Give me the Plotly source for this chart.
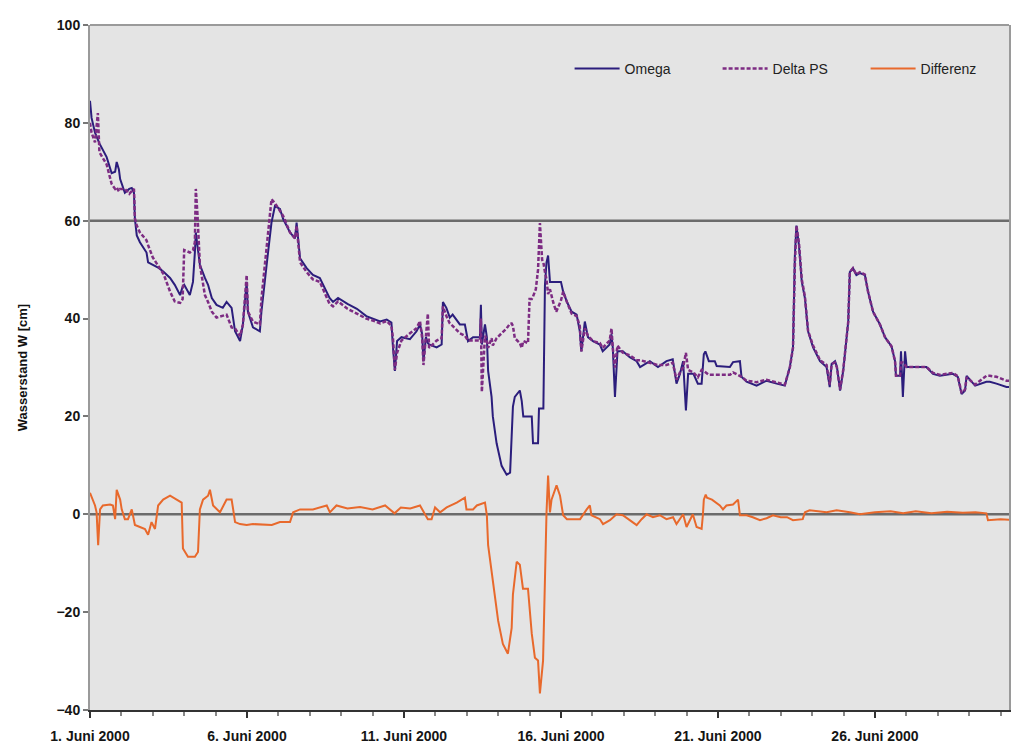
import pandas as pd
import plotly.graph_objects as go

# ---------------- data (time in days after 1. Juni 2000 00:00) ----------------
wl_days = [0.00, 0.05, 0.16, 0.25, 0.30, 0.53, 0.69, 0.80, 0.85, 0.92, 0.96, 1.11, 1.25, 1.33, 1.40,
           1.43, 1.49, 1.59, 1.80, 1.85, 2.00, 2.20, 2.35, 2.55, 2.70, 2.87, 2.95, 3.00, 3.18, 3.28,
           3.34, 3.37, 3.42, 3.50, 3.66, 3.76, 3.88, 4.03, 4.23, 4.35, 4.51, 4.62, 4.78, 4.87, 4.99,
           5.03, 5.19, 5.41, 5.46, 5.57, 5.67, 5.78, 5.89, 6.05, 6.15, 6.37, 6.53, 6.58, 6.69, 6.90,
           7.10, 7.32, 7.48, 7.63, 7.74, 7.90, 8.20, 8.50, 8.80, 9.10, 9.24, 9.45, 9.60, 9.65, 9.71,
           9.78, 9.92, 10.19, 10.40, 10.51, 10.58, 10.62, 10.70, 10.76, 10.80, 11.04, 11.20, 11.24, 11.35, 11.46,
           11.55, 11.78, 11.94, 12.04, 12.20, 12.42, 12.45, 12.48, 12.58, 12.64, 12.68, 12.79, 12.83, 12.95, 13.11,
           13.27, 13.38, 13.43, 13.47, 13.53, 13.69, 13.75, 13.80, 13.95, 14.00, 14.07, 14.11, 14.20, 14.27, 14.30,
           14.33, 14.40, 14.44, 14.49, 14.54, 14.59, 14.65, 14.75, 14.85, 15.00, 15.07, 15.19, 15.34, 15.50, 15.60,
           15.65, 15.76, 15.86, 16.02, 16.24, 16.33, 16.55, 16.61, 16.65, 16.72, 16.80, 16.97, 17.19, 17.41, 17.52,
           17.83, 18.09, 18.36, 18.56, 18.68, 18.79, 18.89, 18.98, 19.05, 19.22, 19.36, 19.48, 19.55, 19.60, 19.71,
           19.90, 19.96, 20.38, 20.48, 20.70, 20.75, 20.91, 21.23, 21.55, 21.87, 22.13, 22.29, 22.39, 22.45, 22.50,
           22.58, 22.67, 22.77, 22.87, 23.03, 23.25, 23.46, 23.56, 23.62, 23.73, 23.79, 23.89, 23.99, 24.10, 24.15,
           24.20, 24.30, 24.41, 24.52, 24.68, 24.78, 24.94, 25.16, 25.32, 25.53, 25.64, 25.67, 25.80, 25.83, 25.89,
           25.96, 26.01, 26.20, 26.64, 26.85, 27.07, 27.48, 27.64, 27.76, 27.87, 27.92, 28.19, 28.55, 28.66, 28.87,
           29.19, 29.40]

omega = [84.5, 81.0, 78.0, 76.5, 75.8, 73.0, 69.7, 70.0, 72.0, 70.5, 68.5, 65.7, 66.5, 66.7, 65.7,
         60.4, 57.0, 55.6, 53.5, 51.5, 51.0, 50.3, 49.5, 48.3, 46.9, 44.8, 46.5, 46.9, 44.8, 47.5,
         53.5, 57.6, 55.0, 51.0, 48.3, 46.9, 44.2, 42.8, 42.2, 43.4, 42.2, 37.4, 35.4, 38.8, 47.5,
         41.4, 38.2, 37.4, 41.4, 48.3, 53.5, 59.6, 63.0, 62.4, 60.4, 57.6, 56.4, 59.6, 52.3, 50.3,
         48.9, 48.3, 46.3, 44.2, 43.4, 44.2, 43.0, 42.0, 40.5, 39.8, 39.4, 39.8, 39.2, 34.1, 29.3,
         35.4, 36.2, 35.8, 37.4, 38.8, 36.8, 31.3, 36.2, 35.0, 34.7, 34.1, 34.7, 43.4, 42.2, 40.2,
         40.8, 38.8, 38.8, 35.4, 36.2, 36.2, 42.8, 34.7, 38.8, 36.2, 29.3, 24.0, 20.0, 14.5, 9.9,
         8.1, 8.5, 16.0, 22.0, 24.0, 25.3, 23.2, 20.0, 20.0, 20.0, 20.0, 14.5, 14.5, 14.5, 21.6,
         21.6, 21.6, 21.6, 46.9, 51.5, 52.9, 47.5, 47.5, 47.5, 47.5, 45.5, 43.4, 41.4, 40.8, 37.4,
         33.3, 39.4, 36.2, 35.4, 34.7, 33.3, 34.7, 36.8, 34.1, 24.0, 33.3, 33.3, 32.1, 31.3, 30.1,
         31.3, 30.1, 31.3, 31.7, 26.7, 28.7, 31.3, 21.2, 28.7, 28.7, 26.7, 26.7, 32.7, 33.3, 31.3,
         31.3, 30.3, 30.1, 31.1, 31.3, 28.1, 27.1, 26.3, 27.3, 26.7, 26.3, 30.1, 34.1, 52.9, 59.0,
         55.0, 47.5, 44.2, 37.4, 34.1, 31.3, 30.1, 26.0, 30.7, 31.3, 30.1, 25.3, 29.3, 35.4, 39.4,
         49.5, 50.3, 48.9, 49.3, 48.9, 45.5, 41.4, 38.8, 36.2, 34.3, 31.3, 28.3, 28.3, 33.3, 24.0,
         33.3, 30.1, 30.1, 30.1, 28.7, 28.3, 28.7, 28.1, 24.6, 25.3, 28.3, 26.3, 27.1, 27.1, 26.7,
         26.0, 26.0]

delta_ps = [80.0, 78.0, 76.0, 82.0, 74.0, 71.5, 67.5, 66.5, 66.8, 66.0, 66.5, 66.5, 65.5, 66.0, 66.5,
            60.5, 59.0, 57.6, 56.0, 55.0, 52.5, 50.5, 49.0, 45.5, 43.5, 43.2, 44.0, 54.0, 53.5, 54.0,
            55.6, 66.5, 61.6, 51.0, 44.8, 43.4, 41.4, 40.2, 40.5, 40.8, 38.2, 38.0, 36.4, 38.8, 48.9,
            41.4, 39.4, 38.8, 44.0, 51.0, 57.6, 64.4, 63.6, 62.0, 61.0, 57.6, 56.4, 59.0, 51.5, 49.5,
            48.0, 47.5, 45.0, 43.0, 42.5, 43.5, 42.0, 41.0, 40.0, 39.4, 39.0, 39.5, 38.5, 36.0, 29.5,
            33.0, 35.5, 37.0, 38.0, 39.5, 36.0, 30.5, 36.5, 41.0, 34.0, 35.5, 36.0, 42.5, 40.5, 39.0,
            38.5, 37.0, 36.5, 35.5, 35.5, 35.5, 40.0, 25.0, 36.5, 35.5, 34.0, 36.0, 34.5, 36.0, 37.0,
            38.0, 39.0, 39.0, 38.5, 36.0, 35.0, 34.0, 35.4, 35.0, 44.0, 44.0, 44.5, 46.0, 50.0, 55.0,
            59.5, 52.0, 51.5, 49.5, 48.0, 45.0, 46.0, 43.4, 41.4, 43.7, 45.5, 43.4, 41.0, 40.5, 38.5,
            33.3, 38.0, 36.5, 35.4, 35.0, 34.0, 35.5, 38.0, 34.0, 30.0, 34.5, 33.0, 32.5, 31.5, 31.5,
            31.0, 30.5, 30.5, 31.0, 27.5, 29.0, 30.0, 33.0, 29.5, 29.0, 28.0, 29.5, 29.3, 29.0, 28.5,
            28.5, 28.5, 28.5, 29.0, 28.3, 28.1, 27.3, 27.0, 27.5, 27.0, 26.5, 30.0, 34.0, 51.0, 59.0,
            55.5, 48.0, 44.5, 37.5, 34.5, 31.5, 30.5, 26.5, 30.7, 31.0, 30.0, 25.5, 29.5, 35.5, 39.4,
            49.5, 50.3, 49.0, 49.5, 49.0, 45.5, 41.4, 38.8, 36.2, 34.3, 31.3, 28.3, 28.3, 31.0, 31.0,
            30.5, 30.1, 30.1, 30.1, 28.9, 28.5, 28.9, 28.2, 24.8, 25.5, 28.0, 26.5, 28.3, 28.3, 28.1,
            27.3, 27.3]

diff_days = [0.00, 0.10, 0.16, 0.21, 0.26, 0.32, 0.41, 0.64, 0.73, 0.80, 0.85, 0.96, 1.01, 1.11, 1.21,
             1.33, 1.37, 1.43, 1.59, 1.75, 1.85, 1.96, 2.07, 2.17, 2.33, 2.55, 2.76, 2.92, 2.96, 3.12,
             3.34, 3.44, 3.50, 3.60, 3.76, 3.82, 3.92, 4.14, 4.35, 4.51, 4.56, 4.62, 4.78, 4.99, 5.19,
             5.63, 5.79, 6.05, 6.37, 6.47, 6.69, 7.10, 7.54, 7.64, 7.85, 8.20, 8.60, 9.00, 9.40, 9.70,
             9.90, 10.20, 10.51, 10.76, 10.88, 10.99, 11.15, 11.36, 11.68, 11.94, 11.99, 12.20, 12.32, 12.58, 12.64,
             12.68, 12.79, 12.90, 13.00, 13.15, 13.31, 13.43, 13.47, 13.59, 13.69, 13.79, 13.95, 14.07, 14.17, 14.27,
             14.33, 14.43, 14.49, 14.54, 14.59, 14.65, 14.70, 14.86, 14.97, 15.07, 15.19, 15.61, 15.82, 15.92, 15.97,
             16.24, 16.34, 16.56, 16.77, 16.97, 17.19, 17.41, 17.57, 17.73, 17.93, 18.15, 18.36, 18.57, 18.68, 18.79,
             18.89, 19.00, 19.11, 19.20, 19.32, 19.48, 19.52, 19.55, 19.61, 19.65, 19.81, 20.06, 20.16, 20.27, 20.48,
             20.64, 20.70, 20.91, 21.11, 21.34, 21.55, 21.75, 22.00, 22.20, 22.39, 22.70, 22.77, 22.92, 23.46, 23.78,
             24.20, 24.52, 25.00, 25.50, 25.90, 26.30, 26.80, 27.30, 27.80, 28.20, 28.55, 28.60, 29.00, 29.40]

differenz = [4.4, 3.0, 1.8, 0.4, -6.3, 1.0, 1.8, 2.0, 1.8, -1.0, 5.0, 3.0, 1.0, -1.0, -1.0,
             1.0, -0.2, -2.2, -2.6, -3.0, -4.2, -1.6, -3.0, 1.8, 3.0, 3.8, 3.0, 2.4, -7.0, -8.7,
             -8.7, -7.7, 1.0, 3.0, 3.8, 5.0, 1.8, 0.4, 3.0, 3.0, 1.0, -1.6, -2.0, -2.2, -2.0,
             -2.2, -2.2, -1.6, -1.6, 0.4, 1.0, 1.0, 1.8, 0.4, 1.8, 1.2, 1.5, 1.0, 1.8, 0.2,
             1.4, 1.2, 1.8, -1.0, -1.0, 1.4, 0.4, 1.4, 2.4, 3.4, 1.0, 1.0, 1.8, 2.4, -0.2,
             -6.3, -11.7, -17.8, -21.8, -26.5, -28.5, -23.2, -16.4, -9.7, -10.3, -15.2, -15.2, -24.4, -29.3, -29.9,
             -36.6, -29.9, -12.3, 0.4, 7.9, 0.4, 3.0, 5.9, 3.8, -0.2, -1.0, -1.0, 1.0, 1.8, -0.2,
             -1.0, -2.0, -1.2, 0.0, -0.2, -1.2, -2.2, -1.0, 0.0, -0.6, -0.2, -1.0, -0.6, -2.0, -1.0,
             0.0, -2.6, -1.0, 0.0, -2.6, -3.0, -0.2, 3.0, 4.0, 3.4, 3.0, 1.8, 1.0, 1.8, 2.0,
             3.0, -0.2, -0.2, -0.6, -1.2, -0.8, -0.2, -0.6, -0.6, -1.2, -1.0, 0.4, 0.8, 0.4, 0.8,
             0.4, 0.0, 0.4, 0.6, 0.2, 0.6, 0.2, 0.5, 0.3, 0.4, 0.2, -1.2, -1.0, -1.2]

tick_days = [0, 5, 10, 15, 20, 25]
tick_labels = ["1. Juni 2000", "6. Juni 2000", "11. Juni 2000",
               "16. Juni 2000", "21. Juni 2000", "26. Juni 2000"]
y_ticks = [100, 80, 60, 40, 20, 0, -20, -40]
ref_lines = [60, 0]
x_end_days = 29.27

# ---------------- build ----------------
start = pd.Timestamp("2000-06-01 00:00")


def to_time(days):
    return [start + pd.to_timedelta(d, unit="D") for d in days]


FONT = "Liberation Sans, Arial, sans-serif"
TICKFONT = dict(family=FONT, size=14, color="#151515", weight="bold")

fig = go.Figure()
fig.add_trace(go.Scatter(x=to_time(wl_days), y=omega, mode="lines", name="Omega",
                         line=dict(color="#2b1d7c", width=2)))
fig.add_trace(go.Scatter(x=to_time(wl_days), y=delta_ps, mode="lines", name="Delta PS",
                         line=dict(color="#7d2c83", width=2.5, dash="4px,2px")))
fig.add_trace(go.Scatter(x=to_time(diff_days), y=differenz, mode="lines", name="Differenz",
                         line=dict(color="#e8692c", width=2)))

for v in ref_lines:
    fig.add_shape(type="line", xref="paper", x0=0, x1=1, yref="y", y0=v, y1=v,
                  line=dict(color="#6b6b6b", width=2.5), layer="below")
# top border of plot area
fig.add_shape(type="line", xref="paper", x0=0, x1=1, yref="paper", y0=1, y1=1,
              line=dict(color="#9a9a9a", width=2))

fig.update_layout(
    width=1030, height=749,
    margin=dict(l=82, r=29, t=9, b=47),
    paper_bgcolor="white",
    plot_bgcolor="#e4e4e4",
    font=dict(family=FONT, size=12, color="#111111"),
    showlegend=True,
    legend=dict(orientation="h", x=1.005, xanchor="right", y=0.936, yanchor="middle",
                bgcolor="rgba(0,0,0,0)", font=dict(family=FONT, size=14, color="#222222"),
                itemwidth=45, entrywidth=88, entrywidthmode="pixels", traceorder="normal"),
    xaxis=dict(
        type="date",
        range=[start, start + pd.to_timedelta(x_end_days, unit="D")],
        tickvals=to_time(tick_days), ticktext=tick_labels,
        tickfont=TICKFONT, ticklabelstandoff=6,
        showgrid=False, zeroline=False,
        showline=True, linecolor="#333333", linewidth=2,
        ticks="outside", ticklen=6, tickcolor="#333333", tickwidth=2,
        minor=dict(dtick=86400000, ticks="outside", ticklen=4, tickcolor="#888888", tickwidth=1.5),
    ),
    yaxis=dict(
        range=[-40, 100],
        tickvals=y_ticks,
        tickfont=TICKFONT,
        showgrid=False, zeroline=False,
        showline=True, linecolor="#9a9a9a", linewidth=2, mirror=True,
        ticks="outside", ticklen=5, tickcolor="#777777", tickwidth=2,
        title=dict(text="Wasserstand W [cm]", font=dict(family=FONT, size=13, color="#111111", weight="bold"),
                   standoff=26),
    ),
)

fig.write_html("out.html")
